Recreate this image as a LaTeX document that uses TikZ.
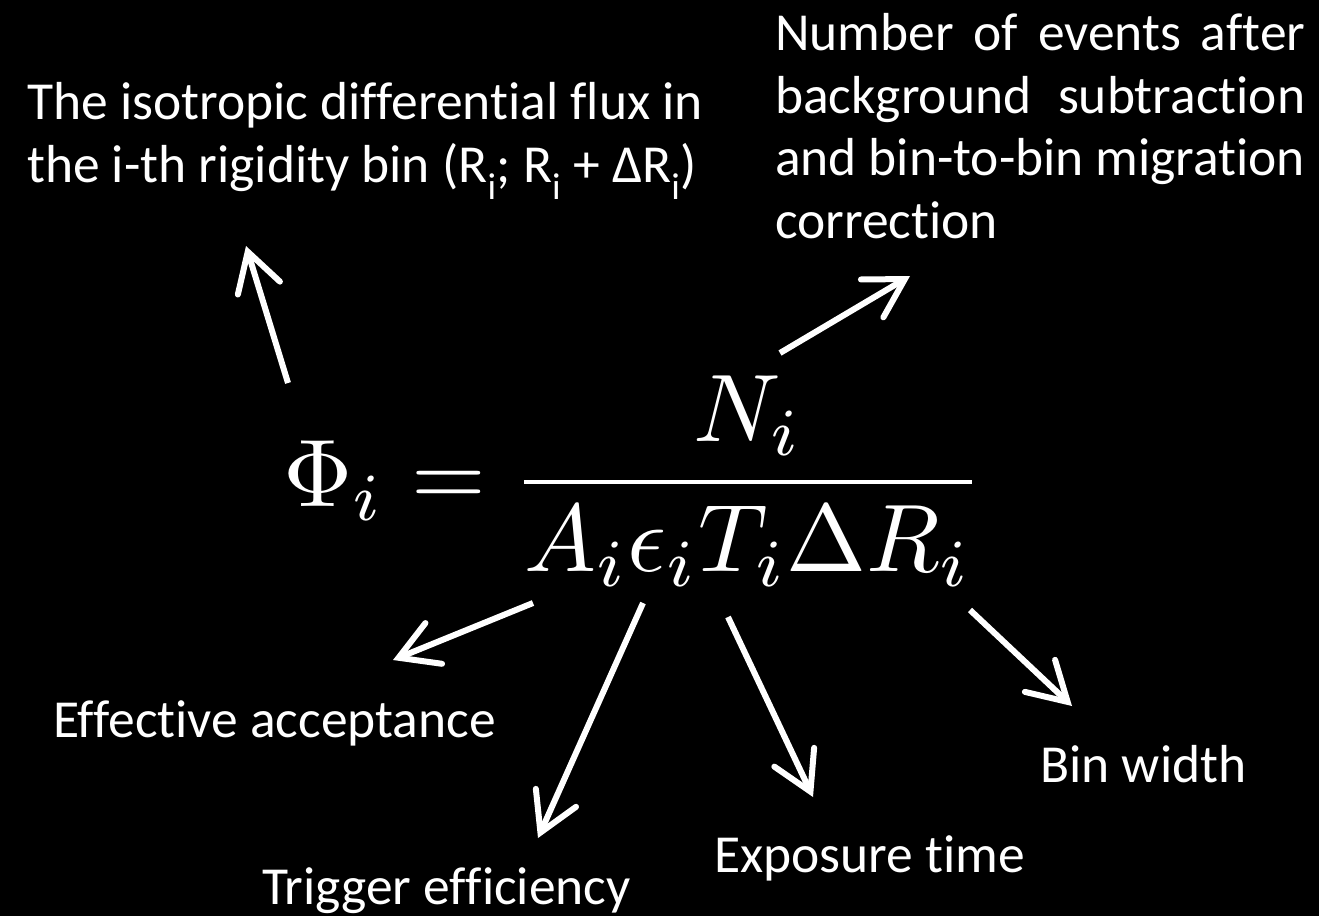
\documentclass[tikz,border=0pt]{standalone}
\usepackage{graphicx}
\usepackage[no-math]{fontspec}
\newfontfamily\labelfont[Ligatures=NoCommon]{Carlito}
\usetikzlibrary{arrows.meta}
\begin{document}
\begin{tikzpicture}[x=1pt,y=-1pt,
  lbl/.style={text=white, inner sep=0pt, anchor=base west, align=left,
    font=\labelfont\fontsize{53.5}{62.5}\selectfont},
  arr/.style={draw=white, line width=6pt,
    -{Straight Barb[length=38pt,width=44pt,line cap=round,line join=miter]}}]
\fill[black] (0,0) rectangle (1319,916);
\useasboundingbox (0,0) rectangle (1319,916);

\node[text=white, inner sep=0pt, anchor=base west] (eq) at (283,506)
  {\scalebox{9.6}{$\displaystyle \Phi_i = \frac{N_i}{A_i\epsilon_i T_i\Delta R_i}$}};

% base anchor of a multi-line node is the baseline of its last line
\node[lbl] (flux) at (27,182) {The isotropic differential flux in\\
  the i-th rigidity bin (R\textsubscript{i}; R\textsubscript{i} + ΔR\textsubscript{i})};
\node[lbl] (num) at (775,238) {\hbox to 530pt{Number\hfil of\hfil events\hfil after}\\
  \hbox to 530pt{background\hfil subtraction}\\
  \hbox to 530pt{and\hfil bin-to-bin\hfil migration}\\
  correction};
\node[lbl] (acc) at (53,737) {Effective acceptance};
\node[lbl] (trig) at (262,904) {Trigger efficiency};
\node[lbl] (exp) at (714,872) {Exposure time};
\node[lbl] (bin) at (1040,782) {Bin width};

\coordinate (a1t) at (288,383); \coordinate (a1h) at (246,246);
\coordinate (a2t) at (780,353); \coordinate (a2h) at (910,276);
\coordinate (a3t) at (533,603); \coordinate (a3h) at (393,660);
\coordinate (a4t) at (643,603); \coordinate (a4h) at (538,838);
\coordinate (a5t) at (728,617); \coordinate (a5h) at (813,797);
\coordinate (a6t) at (970,610); \coordinate (a6h) at (1072,706);

\draw[arr] (a1t) -- (a1h);
\draw[arr] (a2t) -- (a2h);
\draw[arr] (a3t) -- (a3h);
\draw[arr] (a4t) -- (a4h);
\draw[arr] (a5t) -- (a5h);
\draw[arr] (a6t) -- (a6h);
\end{tikzpicture}
\end{document}
